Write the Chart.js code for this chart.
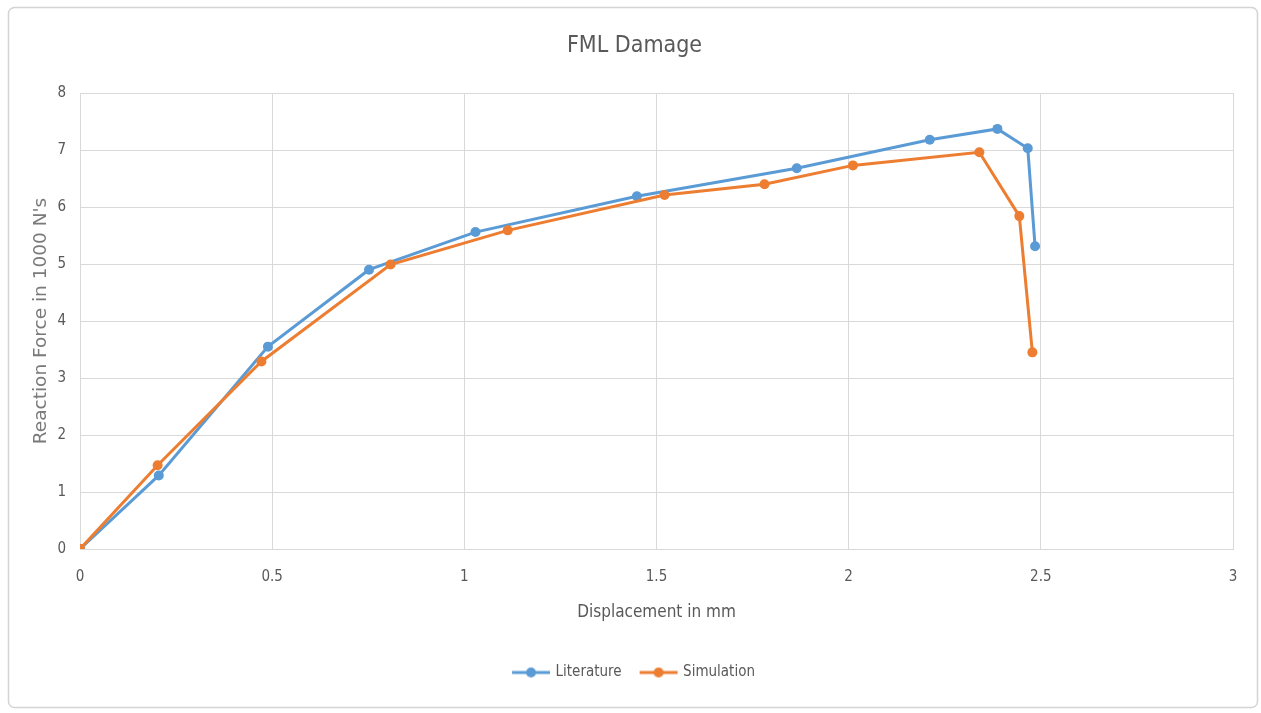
<!DOCTYPE html>
<html>
<head>
<meta charset="utf-8">
<script src="https://cdn.jsdelivr.net/npm/chart.js@4/dist/chart.umd.min.js"></script>
<style>
  html, body { margin: 0; padding: 0; background: #ffffff; }
  #wrap { position: relative; width: 1261px; height: 713px; }
</style>
</head>
<body>
<div id="wrap"><canvas id="c" width="1261" height="713"></canvas></div>
<script>
const chartTitle = 'FML Damage';
const xAxisTitle = 'Displacement in mm';
const yAxisTitle = "Reaction Force in 1000 N's";
const seriesNames = ['Literature', 'Simulation'];

const literatureX = [0, 0.205, 0.489, 0.752, 1.029, 1.449, 1.865, 2.211, 2.387, 2.466, 2.485];
const literatureY = [0, 1.29, 3.55, 4.90, 5.56, 6.19, 6.68, 7.18, 7.37, 7.03, 5.31];
const simulationX = [0, 0.202, 0.472, 0.808, 1.113, 1.521, 1.781, 2.011, 2.340, 2.444, 2.478];
const simulationY = [0, 1.47, 3.29, 4.99, 5.59, 6.21, 6.40, 6.73, 6.96, 5.84, 3.45];

const xTicks = [0, 0.5, 1, 1.5, 2, 2.5, 3];
const yTicks = [0, 1, 2, 3, 4, 5, 6, 7, 8];

const BLUE = '#5B9BD5';
const ORANGE = '#ED7D31';
const NARROW = "'Liberation Sans Narrow', 'DejaVu Sans Condensed', 'Liberation Sans', sans-serif";

function toPoints(xs, ys) { return xs.map((x, i) => ({ x: x, y: ys[i] })); }

function legendIcon(color) {
  const cv = document.createElement('canvas');
  cv.width = 42; cv.height = 12;
  const g = cv.getContext('2d');
  g.strokeStyle = color; g.lineWidth = 3;
  g.beginPath(); g.moveTo(2, 6); g.lineTo(40, 6); g.stroke();
  g.fillStyle = color;
  g.beginPath(); g.arc(21, 6, 5, 0, Math.PI * 2); g.fill();
  return cv;
}

const frame = {
  id: 'frame',
  beforeDraw(chart) {
    const ctx = chart.ctx;
    ctx.save();
    ctx.fillStyle = '#ffffff';
    ctx.fillRect(0, 0, chart.width, chart.height);
    ctx.strokeStyle = '#d4d4d4';
    ctx.lineWidth = 1.5;
    ctx.beginPath();
    ctx.roundRect(8.5, 7.5, 1249, 700, 6);
    ctx.stroke();
    ctx.restore();
  }
};

new Chart(document.getElementById('c'), {
  type: 'scatter',
  data: {
    datasets: [
      {
        label: seriesNames[0],
        data: toPoints(literatureX, literatureY),
        showLine: true,
        borderColor: BLUE,
        backgroundColor: BLUE,
        borderWidth: 3,
        pointRadius: 5,
        pointBorderWidth: 0,
        pointStyle: 'circle',
        order: 1
      },
      {
        label: seriesNames[1],
        data: toPoints(simulationX, simulationY),
        showLine: true,
        borderColor: ORANGE,
        backgroundColor: ORANGE,
        borderWidth: 3,
        pointRadius: 5,
        pointBorderWidth: 0,
        pointStyle: 'circle',
        order: 0
      }
    ]
  },
  options: {
    responsive: false,
    animation: false,
    devicePixelRatio: 1,
    layout: { padding: { top: 0, left: 36, right: 28, bottom: 23 } },
    plugins: {
      tooltip: { enabled: false },
      title: {
        display: true,
        text: chartTitle,
        color: '#595959',
        font: { family: NARROW, size: 23, weight: 'normal' },
        padding: { top: 32, bottom: 33.4 }
      },
      legend: {
        display: true,
        position: 'bottom',
        labels: {
          color: '#595959',
          font: { family: NARROW, size: 15 },
          usePointStyle: true,
          pointStyleWidth: 34,
          padding: 20,
          sort: (a, b) => a.datasetIndex - b.datasetIndex,
          generateLabels: (chart) => chart.data.datasets.map((ds, i) => ({
            text: ds.label,
            fillStyle: ds.borderColor,
            strokeStyle: ds.borderColor,
            lineWidth: 0,
            pointStyle: legendIcon(ds.borderColor),
            fontColor: '#595959',
            hidden: false,
            datasetIndex: i
          }))
        }
      }
    },
    scales: {
      x: {
        type: 'linear',
        min: 0, max: 3,
        afterBuildTicks: (s) => { s.ticks = xTicks.map(v => ({ value: v })); },
        afterFit: (s) => { s.height = 96; },
        grid: { color: '#d9d9d9', lineWidth: 1, drawTicks: true, tickLength: 16, tickColor: 'rgba(0,0,0,0)' },
        border: { color: '#d9d9d9', width: 1 },
        ticks: {
          color: '#595959',
          font: { family: NARROW, size: 15 },
          padding: 3,
          maxRotation: 0,
          callback: (v) => String(v)
        },
        title: {
          display: true,
          text: xAxisTitle,
          color: '#595959',
          font: { family: NARROW, size: 17 },
          padding: { top: 0, bottom: 21.8 }
        }
      },
      y: {
        type: 'linear',
        min: 0, max: 8,
        afterBuildTicks: (s) => { s.ticks = yTicks.map(v => ({ value: v })); },
        afterFit: (s) => { s.width = 44; },
        grid: { color: '#d9d9d9', lineWidth: 1, drawTicks: false },
        border: { color: '#d9d9d9', width: 1 },
        ticks: {
          color: '#595959',
          font: { family: NARROW, size: 15 },
          padding: 14,
          callback: (v) => String(v)
        },
        title: {
          display: true,
          text: yAxisTitle,
          color: '#7a7a7a',
          font: { family: "'DejaVu Sans', Verdana, sans-serif", size: 18.5 },
          padding: { top: -6, bottom: 0 }
        }
      }
    }
  },
  plugins: [frame]
});
</script>
</body>
</html>
